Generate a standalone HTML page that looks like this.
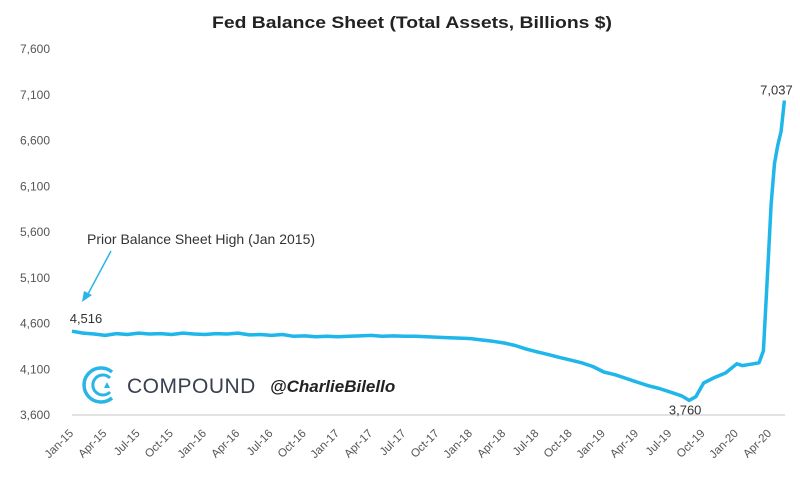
<!DOCTYPE html>
<html><head><meta charset="utf-8"><style>
body{margin:0;background:#fff;width:800px;height:493px;overflow:hidden;font-family:"Liberation Sans",sans-serif;}
svg text{font-family:"Liberation Sans",sans-serif;}
</style></head><body>
<svg id="chart" width="800" height="493">
<text x="412" y="28" text-anchor="middle" font-size="17" font-weight="bold" fill="#222" textLength="400" lengthAdjust="spacingAndGlyphs">Fed Balance Sheet (Total Assets, Billions $)</text>
<g id="yaxis"></g>
<g id="xaxis"></g>
<line x1="72" y1="415" x2="785" y2="415" stroke="#d9d9d9" stroke-width="1.5"/>
<g>
<path d="M112 372 A17 17 0 1 0 112 398" fill="none" stroke="#29b5e8" stroke-width="3.5"/>
<path d="M110 378 A10 10 0 1 0 110 392" fill="none" stroke="#29b5e8" stroke-width="3"/>
<polygon points="104,388 107,382 110,388" fill="#29b5e8"/>
<text x="127" y="393" font-size="21" fill="#3a3f4f" letter-spacing="0.5">COMPOUND</text>
</g>
<text x="270" y="392" font-size="17" font-style="italic" font-weight="bold" fill="#222">@CharlieBilello</text>
<text x="87" y="244" font-size="14" fill="#333">Prior Balance Sheet High (Jan 2015)</text>
<line x1="111" y1="251" x2="88" y2="294" stroke="#29b5e8" stroke-width="1.5"/>
<polygon points="82,302 84,291 92,295" fill="#29b5e8"/>
<path id="series" fill="none" stroke="#1fb6ea" stroke-width="3.5" stroke-linejoin="round"/>
<g id="labels"></g>
</svg>
<script>
const yTicks=[3600,4100,4600,5100,5600,6100,6600,7100,7600];
const xTickLabels=["Jan-15","Apr-15","Jul-15","Oct-15","Jan-16","Apr-16","Jul-16","Oct-16","Jan-17","Apr-17","Jul-17","Oct-17","Jan-18","Apr-18","Jul-18","Oct-18","Jan-19","Apr-19","Jul-19","Oct-19","Jan-20","Apr-20"];
const months=[0,1,2,3,4,5,6,7,8,9,10,11,12,13,14,15,16,17,18,19,20,21,22,23,24,25,26,27,28,29,30,31,32,33,34,35,36,37,38,39,40,41,42,43,44,45,46,47,48,49,50,51,52,53,54,55,55.7,56.3,57,58,59,60,60.5,61,61.5,62,62.4,62.8,63.1,63.4,63.7,64.0,64.3];
const values=[4516,4495,4485,4470,4490,4480,4495,4485,4490,4480,4495,4485,4480,4490,4485,4495,4475,4480,4470,4480,4460,4465,4455,4460,4455,4460,4465,4470,4460,4465,4460,4460,4455,4450,4445,4440,4435,4420,4405,4387,4360,4320,4290,4260,4230,4200,4170,4130,4070,4040,4000,3960,3920,3890,3850,3810,3760,3800,3950,4010,4060,4160,4140,4150,4160,4170,4300,5200,5900,6350,6550,6700,7037];
const NS="http://www.w3.org/2000/svg";
const x0=72,pxPerMonth=11.08;
function xs(m){return x0+m*pxPerMonth;}
function ys(v){return 415-(v-3600)*0.0915;}
const ya=document.getElementById('yaxis');
yTicks.forEach(v=>{const t=document.createElementNS(NS,'text');


t.setAttribute('x',20);t.setAttribute('y',ys(v)+4);t.setAttribute('font-size','12');t.setAttribute('fill','#555');
t.textContent=v.toLocaleString('en-US');ya.appendChild(t);});
const xa=document.getElementById('xaxis');
xTickLabels.forEach((l,i)=>{const t=document.createElementNS(NS,'text');


const x=xs(i*3)+2,y=434;
t.setAttribute('x',x);t.setAttribute('y',y);t.setAttribute('text-anchor','end');t.setAttribute('font-size','11.5');t.setAttribute('fill','#555');
t.setAttribute('transform','rotate(-45 '+x+' '+y+')');t.textContent=l;xa.appendChild(t);});
document.getElementById('series').setAttribute('d',months.map((m,i)=>(i?'L':'M')+xs(m).toFixed(1)+' '+ys(values[i]).toFixed(1)).join(' '));
const lg=document.getElementById('labels');
function lab(txt,x,y,name){const t=document.createElementNS(NS,'text');


t.setAttribute('x',x);t.setAttribute('y',y);t.setAttribute('font-size','13');t.setAttribute('fill','#333');t.setAttribute('text-anchor','middle');t.textContent=txt;lg.appendChild(t);}
const last=values.length-1;let minI=0;values.forEach((v,i)=>{if(v<values[minI])minI=i;});
lab(values[0].toLocaleString('en-US'),xs(months[0])+14,ys(values[0])-8,'start-value-label');
lab(values[minI].toLocaleString('en-US'),xs(months[minI])-4,ys(values[minI])+14,'min-value-label');
lab(values[last].toLocaleString('en-US'),xs(months[last])-8,ys(values[last])-6,'end-value-label');
</script>
</body></html>
